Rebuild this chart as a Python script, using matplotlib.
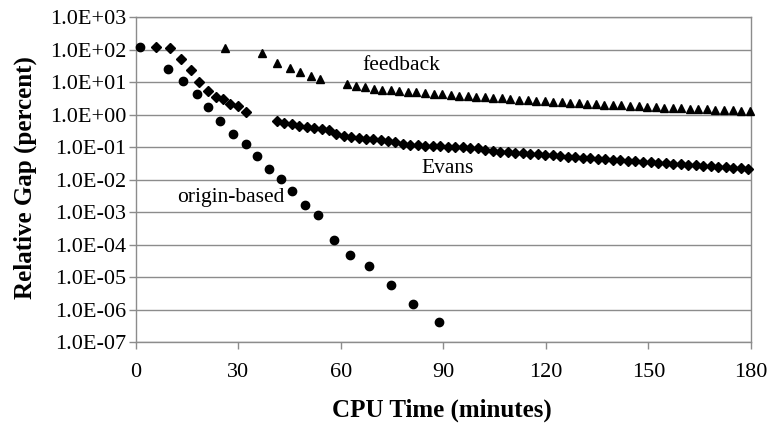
import matplotlib
matplotlib.use('Agg')
import matplotlib.pyplot as plt
from matplotlib.ticker import FuncFormatter, FixedLocator

plt.rcParams['font.family'] = ['Liberation Serif', 'DejaVu Serif']

# origin-based (circles)
origin_x = [1.2, 9.5, 13.8, 17.8, 21.2, 24.6, 28.5, 32.1, 35.5, 38.8, 42.3, 45.7,
            49.5, 53.3, 58.0, 62.7, 68.3, 74.5, 81.1, 88.8]
origin_y = [125, 25, 11, 4.4, 1.7, 0.66, 0.26, 0.126, 0.055, 0.022, 0.0105, 0.0044,
            0.00165, 0.00085, 1.45e-4, 4.8e-5, 2.2e-5, 5.6e-6, 1.55e-6, 4.2e-7]

# Evans (diamonds)
evans_x = [6.0, 10.0, 13.1, 16.0, 18.5, 21.1, 23.4, 25.4, 27.5, 29.8, 32.3,
           41.2, 43.4, 45.6, 47.8, 50.0, 52.2, 54.4, 56.6, 58.6, 60.8, 63.0, 65.2,
           67.3, 69.5, 71.6, 73.7, 75.9, 78.1, 80.2, 82.4, 84.6, 86.8, 89.0, 91.2,
           93.4, 95.6, 97.8, 100.0, 102.2, 104.4, 106.6, 108.8, 111.0, 113.2, 115.4,
           117.6, 119.8, 122.0, 124.2, 126.4, 128.6, 130.8, 133.0, 135.2, 137.4,
           139.6, 141.8, 144.0, 146.2, 148.4, 150.6, 152.8, 155.0, 157.2, 159.4,
           161.6, 163.8, 166.0, 168.2, 170.4, 172.6, 174.8, 177.0, 179.2]
evans_y = [125, 116, 53, 24, 10.5, 5.5, 3.5, 3.0, 2.2, 1.9, 1.25,
           0.65, 0.57, 0.51, 0.46, 0.43, 0.40, 0.37, 0.34, 0.25, 0.22, 0.21, 0.195,
           0.18, 0.175, 0.165, 0.155, 0.145, 0.13, 0.12, 0.115, 0.11, 0.108, 0.106, 0.104,
           0.102, 0.100, 0.098, 0.096, 0.08, 0.077, 0.074, 0.071, 0.068, 0.066, 0.063,
           0.061, 0.058, 0.056, 0.054, 0.052, 0.050, 0.048, 0.046, 0.044, 0.043,
           0.041, 0.040, 0.038, 0.037, 0.036, 0.035, 0.033, 0.032, 0.031, 0.030,
           0.029, 0.028, 0.027, 0.026, 0.025, 0.024, 0.0235, 0.023, 0.022]

# feedback (triangles)
feedback_x = [26.0, 37.0, 41.2, 45.1, 48.0, 51.2, 54.0,
              61.7, 64.4, 67.0, 69.6, 72.1, 74.6, 77.1, 79.6, 82.1, 84.6,
              87.1, 89.6, 92.1, 94.6, 97.1, 99.6, 102.1, 104.6, 107.1, 109.6,
              112.1, 114.6, 117.1, 119.6, 122.1, 124.6, 127.1, 129.6, 132.1, 134.6,
              137.1, 139.6, 142.1, 144.6, 147.1, 149.6, 152.1, 154.6, 157.1, 159.6,
              162.1, 164.6, 167.1, 169.6, 172.1, 174.6, 177.1, 179.6]
feedback_y = [117, 78, 40, 27, 21, 16, 13,
              8.7, 7.8, 7.0, 6.3, 5.9, 5.6, 5.4, 5.0, 4.9, 4.7,
              4.5, 4.3, 4.1, 3.9, 3.75, 3.6, 3.45, 3.3, 3.2, 3.05,
              2.95, 2.85, 2.75, 2.65, 2.55, 2.45, 2.37, 2.29, 2.21, 2.14,
              2.07, 2.0, 1.94, 1.88, 1.82, 1.77, 1.72, 1.67, 1.62, 1.58,
              1.54, 1.50, 1.46, 1.43, 1.40, 1.37, 1.34, 1.31]

x_ticks = [0, 30, 60, 90, 120, 150, 180]
y_ticks = [1e-7, 1e-6, 1e-5, 1e-4, 1e-3, 1e-2, 1e-1, 1e0, 1e1, 1e2, 1e3]

fig = plt.figure(figsize=(7.7, 4.32), dpi=100)
ax = fig.add_axes([0.1766, 0.2076, 0.7987, 0.7524])

grey = '#8c8c8c'
ax.set_yscale('log')
ax.set_xlim(0, 180)
ax.set_ylim(1e-7, 1e3)
ax.yaxis.set_major_locator(FixedLocator(y_ticks))
ax.yaxis.set_minor_locator(FixedLocator([]))
ax.yaxis.set_major_formatter(FuncFormatter(lambda v, p: f'{v:.1E}'))
ax.set_xticks(x_ticks)
ax.grid(True, axis='y', color=grey, linewidth=1.0)
ax.set_axisbelow(True)
for s in ax.spines.values():
    s.set_color(grey)
    s.set_linewidth(1.0)
ax.tick_params(axis='both', colors=grey, labelcolor='black', labelsize=16,
               direction='out', length=5, width=1)
ax.tick_params(axis='x', pad=10)
ax.tick_params(axis='y', pad=2)

ax.plot(origin_x, origin_y, linestyle='none', marker='o', color='black',
        markersize=6, clip_on=False, zorder=3)
ax.plot(evans_x, evans_y, linestyle='none', marker='D', color='black',
        markersize=5, clip_on=False, zorder=3)
ax.plot(feedback_x, feedback_y, linestyle='none', marker='^', color='black',
        markersize=6, clip_on=False, zorder=3)

ax.text(0.432, 0.853, 'feedback', transform=ax.transAxes, fontsize=15.5,
        ha='center', va='center')
ax.text(0.507, 0.536, 'Evans', transform=ax.transAxes, fontsize=15.5,
        ha='center', va='center')
ax.text(0.154, 0.446, 'origin-based', transform=ax.transAxes, fontsize=15.5,
        ha='center', va='center')

ax.set_xlabel('CPU Time (minutes)', fontsize=18, fontweight='bold', va='center')
ax.xaxis.set_label_coords(0.498, -0.208)
ax.set_ylabel('Relative Gap (percent)', fontsize=18, fontweight='bold', va='center')
ax.yaxis.set_label_coords(-0.180, 0.507)

fig.savefig('out.png', dpi=100)
